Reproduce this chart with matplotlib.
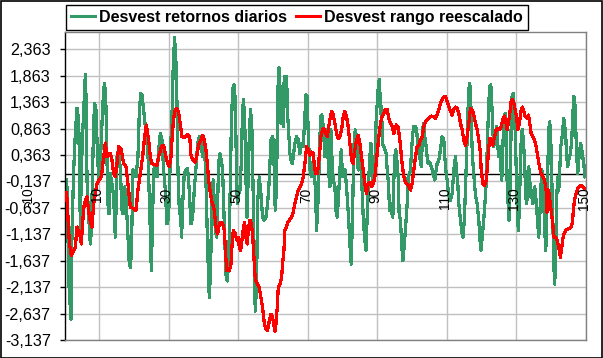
import matplotlib
matplotlib.use("Agg")
import matplotlib.pyplot as plt
from matplotlib.patches import Rectangle

plt.rcParams['font.family'] = ['Liberation Sans', 'DejaVu Sans']

# ---- data ----
# Desvest retornos diarios (green): x positions and values
ret_x = [
    0.43, 0.81, 1.20, 1.87, 2.16, 2.64, 3.12, 3.60, 4.08, 4.36,
    4.56, 4.84, 5.23, 5.61, 5.99, 6.28, 6.47, 6.76, 7.15, 7.43,
    7.72, 8.10, 8.39, 8.68, 9.06, 9.35, 9.83, 10.31, 10.79, 11.27,
    11.56, 11.94, 12.23, 12.52, 12.81, 13.19, 13.67, 14.15, 14.63, 14.92,
    15.11, 15.59, 16.07, 16.55, 16.83, 17.31, 17.70, 18.27, 18.66, 19.04,
    19.42, 19.71, 20.19, 20.58, 21.15, 21.53, 21.92, 22.30, 22.78, 23.26,
    23.74, 24.03, 24.41, 24.70, 24.99, 25.28, 25.66, 26.14, 26.62, 27.10,
    27.58, 28.06, 28.54, 29.02, 29.50, 29.98,
    30.36, 30.65, 30.94, 31.32, 31.70, 32.09, 32.38, 32.66, 33.05, 33.43,
    33.72, 34.01, 34.49, 34.97, 35.44, 35.92, 36.40, 36.88, 37.36, 38.03,
    38.32, 38.80, 39.28, 39.76, 40.24, 40.72, 41.20, 41.68, 42.06, 42.45,
    42.83, 43.12, 43.41, 43.79, 44.08, 44.37, 44.75, 45.13, 45.52, 46.00,
    46.48, 46.86, 47.24, 47.63, 48.01, 48.40, 48.78, 49.07, 49.35, 49.64,
    49.83, 50.12, 50.50, 50.89, 51.27, 51.56, 51.94, 52.23, 52.52, 52.90,
    53.19, 53.57, 53.96, 54.34, 54.63, 54.92, 55.30, 55.59, 56.07, 56.55,
    57.03, 57.51, 57.99, 58.47, 58.95, 59.43, 59.91,
    60.10, 60.39, 60.67, 61.06, 61.35, 61.73, 62.02, 62.31, 62.59, 62.98,
    63.26, 63.55, 63.94, 64.22, 64.51, 64.90, 65.18, 65.57, 65.85, 66.33,
    66.81, 67.29, 67.77, 68.25, 68.73, 69.21, 69.50, 69.88, 70.17, 70.65,
    71.13, 71.61, 71.90, 72.28, 72.57, 72.95, 73.34, 73.72, 74.10, 74.49,
    74.78, 74.97, 75.45, 75.73, 76.02, 76.41, 76.69, 76.98, 77.37, 77.85,
    78.13, 78.52, 78.90, 79.28, 79.67, 80.05, 80.44, 80.82, 81.39, 81.78,
    82.16, 82.55, 82.93, 83.31, 83.70, 84.08, 84.56, 85.04, 85.33, 85.61,
    86.00, 86.38, 86.77, 87.15, 87.44, 87.92, 88.21, 88.49, 88.88, 89.36,
    89.84,
    90.02, 90.40, 90.69, 90.98, 91.27, 91.55, 91.94, 92.23, 92.61, 92.90,
    93.28, 93.57, 93.95, 94.24, 94.53, 94.82, 95.10, 95.39, 95.77, 96.06,
    96.35, 96.73, 97.12, 97.41, 97.69, 97.98, 98.27, 98.65, 98.94, 99.32,
    99.61, 99.99, 100.28, 100.57, 101.05, 101.34, 101.72, 102.11, 102.49, 102.78,
    103.06, 103.45, 103.74, 104.02, 104.41, 104.70, 105.08, 105.37, 105.85, 106.33,
    106.61, 107.00, 107.29, 107.77, 108.24, 108.72, 109.20, 109.49, 109.78, 110.16,
    110.45, 110.74, 111.12, 111.60, 111.89, 112.27, 112.56, 112.85, 113.23, 113.52,
    114.00, 114.48, 114.77, 115.15, 115.53, 115.92, 116.30, 116.59, 116.88, 117.17,
    117.45, 117.84, 118.12, 118.41, 118.80, 119.28, 119.76,
    119.95, 120.24, 120.52, 120.91, 121.29, 121.58, 121.87, 122.16, 122.44, 122.73,
    123.02, 123.31, 123.59, 123.88, 124.17, 124.46, 124.75, 125.03, 125.32, 125.61,
    125.90, 126.18, 126.47, 126.86, 127.14, 127.43, 127.72, 128.01, 128.29, 128.58,
    128.87, 129.16, 129.54, 129.83, 130.12, 130.40, 130.69, 130.98, 131.27, 131.56,
    131.84, 132.23, 132.51, 132.80, 133.09, 133.38, 133.67, 133.95, 134.24, 134.53,
    134.82, 135.11, 135.39, 135.68, 135.97, 136.26, 136.55, 136.83, 137.12, 137.41,
    137.70, 137.98, 138.27, 138.56, 138.85, 139.13, 139.42, 139.71, 140.00, 140.29,
    140.57, 140.86, 141.15, 141.44, 141.72, 142.01, 142.30, 142.59, 142.88, 143.16,
    143.45, 143.74, 144.03, 144.31, 144.60, 144.89, 145.18, 145.47, 145.75, 146.04,
    146.33, 146.62, 146.90, 147.19, 147.48, 147.77, 148.06, 148.34, 148.63, 148.92,
    149.21, 149.50, 149.88,
]
ret_y = [
    -0.10, -0.30, -2.00, -2.74, -1.06, 0.08, 0.77, 1.25, 1.03, 0.01,
    -1.06, 0.08, 0.77, 1.34, 1.88, 1.28, -0.10, -0.56, -1.00, -1.32,
    -1.06, 0.08, 0.96, 1.34, 1.22, 0.65, -0.10, 0.20, 0.96, 1.60,
    1.72, 1.28, 0.27, -0.56, -0.75, 0.01, -0.18, -0.43, -1.19, -0.43,
    0.33, 0.46, 0.08, -0.68, -0.75, -0.24, -0.43, -1.19, -1.70, -1.77,
    -0.94, 0.08, 0.01, -0.05, 0.33, 1.15, 1.53, 1.50, 1.22, 0.90,
    0.77, 0.39, -0.43, -1.06, -1.82, -1.06, 0.08, 0.14, -0.05, 0.46,
    0.77, 0.65, 0.08, -0.30, -0.94, -0.81,
    0.08, 0.65, 1.09, 2.10, 2.58, 2.10, 1.34, 0.08, -0.68, -0.81,
    -1.19, -0.56, 0.01, 0.08, 0.11, -0.30, -0.94, -0.81, -0.30, 0.27,
    0.58, 0.71, 0.58, 0.33, 0.65, -0.11, -1.38, -2.33, -1.83, -0.30,
    -0.11, -0.56, -1.06, -1.19, -0.56, 0.20, 0.39, 0.27, 0.08, -0.94,
    -1.89, -2.02, -1.70, -0.56, 0.84, 1.60, 1.69, 1.47, 0.71, -0.30,
    -0.56, -0.37, -0.30, 0.20, 1.22, 1.41, 0.84, -0.05, -0.81, -0.05,
    0.71, 1.22, 0.84, -0.43, -1.70, -2.59, -2.08, -0.56, -0.05, -0.37,
    -0.81, -0.87, -0.81, -0.56, -0.11, 0.65, 0.71,
    0.65, 0.08, -0.68, -0.24, 1.47, 2.01, 1.66, 0.96, 1.41, 0.90,
    1.85, 1.28, 1.85, 1.15, 0.84, 0.39, 0.27, 0.20, 0.33, 0.58,
    0.71, 0.65, 0.39, 0.58, 0.52, 1.09, 1.50, 1.47, 0.77, 0.08,
    -0.05, 0.27, 0.01, -0.30, -1.06, -0.56, 0.20, 1.09, 1.12, 0.90,
    0.58, 0.33, 0.84, 0.58, 0.08, -0.24, 0.84, 0.33, -0.11, -0.24,
    -0.68, -0.81, -0.43, 0.08, 0.46, -0.05, -0.05, 0.08, -0.43, -0.81,
    -1.32, -1.70, -0.75, 0.52, 0.84, 0.71, 0.08, 0.46, 0.33, -0.18,
    -0.81, -1.19, -1.44, -0.81, -0.30, 0.33, 0.58, 0.08, -0.18, 0.20,
    1.28,
    1.28, 1.72, 1.79, 1.15, 1.28, 0.58, 0.52, 0.46, 0.39, 0.08,
    -0.18, -0.68, -0.56, -0.75, -0.81, -0.11, 0.33, 0.46, 0.20, -0.05,
    -0.75, -0.87, -1.38, -1.64, -1.44, -1.19, -0.94, -0.56, -0.05, 0.01,
    0.08, 0.52, 0.77, 0.90, 0.90, 0.84, 0.58, 0.46, 0.20, 0.14,
    0.84, 0.96, 0.71, 0.58, 0.33, 0.20, 0.23, 0.20, 0.08, -0.05,
    -0.11, 0.08, 0.20, 0.27, 0.46, 0.71, 0.65, 0.33, 0.08, -0.11,
    -0.30, -0.43, -0.49, -0.37, -0.11, 0.20, 0.33, 0.08, -0.18, -0.56,
    -0.87, -1.13, -1.19, -0.81, -0.11, 0.71, 1.47, 1.72, 1.60, 0.84,
    0.33, 0.01, -0.24, -0.43, -0.56, -0.87, -1.38,
    -1.44, -1.19, -1.00, -0.68, -0.30, 0.20, 0.84, 1.34, 1.66, 1.69,
    1.34, 0.84, 0.52, 0.65, 0.77, 0.90, 0.52, 0.33, 0.52, 0.14,
    -0.11, 0.46, 1.03, 1.15, 0.84, -0.11, -0.56, -0.87, -0.18, 0.84,
    1.47, 1.53, 1.22, 0.65, -0.11, -0.81, -1.06, -0.56, 0.20, 0.77,
    0.84, 0.52, 0.14, -0.43, -0.56, -0.05, 0.14, -0.11, -0.43, -0.30,
    -0.56, -0.43, -0.24, -0.43, -0.68, -0.94, -1.19, -0.81, -0.30, 0.08,
    -0.05, -0.56, -1.06, -1.44, -0.81, 0.08, 0.84, 0.99, 0.65, -0.11,
    -0.81, -1.70, -2.08, -1.32, -0.43, -0.05, -0.30, 0.08, 0.52, 0.65,
    0.84, 1.06, 0.90, 0.71, 0.33, 0.14, 0.27, 0.33, 0.46, 0.65,
    1.09, 1.47, 1.41, 0.84, 0.33, 0.01, 0.27, 0.46, 0.58, 0.46,
    0.33, 0.20, -0.05,
]

# Desvest rango reescalado (red): x positions and values
ran_x = [
    0.62, 1.39, 1.97, 2.54, 3.12, 3.60, 4.08, 4.56, 4.84, 5.23,
    5.61, 5.99, 6.47, 6.95, 7.43, 7.91, 8.39, 8.87, 9.35, 9.83,
    10.60, 11.27, 11.75, 12.23, 12.71, 13.19, 13.67, 14.15, 14.63, 15.11,
    15.59, 16.35, 17.03, 17.70, 18.27, 18.94, 19.90, 20.58, 21.15, 21.82,
    22.49, 23.07, 23.55, 24.22, 24.70, 25.18, 26.62, 27.10, 27.87, 28.54,
    29.21, 29.69, 30.17, 30.65, 31.13, 31.61, 32.09, 32.57, 33.05, 33.53,
    33.81, 34.49, 35.16, 35.73, 36.12, 36.40, 36.88, 37.65, 38.03, 38.61,
    39.28, 39.76, 40.24, 40.72, 41.20, 41.49, 41.87, 42.35, 42.64, 43.12,
    43.60, 44.08, 44.37, 44.85, 45.52, 46.00, 46.28, 46.67, 47.44, 47.92,
    48.20, 48.59, 49.16, 49.64, 50.02, 50.31, 50.70, 51.08, 51.56, 51.85,
    52.23, 52.62, 53.00, 53.38, 53.77, 54.15, 54.53, 54.92, 55.59, 56.07,
    56.55, 57.03, 57.51, 57.99, 58.47, 58.95, 59.43, 59.62, 60.10, 60.58,
    60.87, 61.25, 61.54, 62.02, 62.50, 62.79, 63.17, 63.46, 63.74, 64.13,
    64.70, 65.38, 65.85, 66.33, 66.81, 67.29, 67.77, 68.25, 68.73, 69.21,
    69.69, 70.17, 70.65, 71.13, 71.61, 71.90, 72.28, 72.76, 73.05, 73.53,
    73.82, 74.30, 74.68, 75.26, 75.64, 75.93, 76.41, 76.89, 77.37, 77.85,
    78.32, 78.80, 79.28, 79.76, 80.24, 80.72, 81.20, 81.68, 82.16, 82.64,
    83.12, 83.60, 84.08, 84.56, 85.04, 85.52, 86.00, 86.48, 86.96, 87.44,
    87.92, 88.40, 88.88, 89.36, 89.54, 90.02, 90.50, 90.98, 91.46, 91.94,
    92.42, 92.90, 93.38, 93.86, 94.34, 94.82, 95.10, 95.49, 95.97, 96.45,
    96.73, 97.21, 97.69, 98.17, 98.65, 99.13, 99.61, 100.09, 100.57, 101.05,
    101.53, 102.01, 102.49, 102.97, 103.45, 103.93, 104.41, 104.89, 105.37, 105.85,
    106.33, 106.81, 107.29, 107.77, 108.24, 108.72, 109.20, 109.68, 110.16, 110.64,
    111.12, 111.60, 112.08, 112.56, 113.04, 113.52, 114.00, 114.48, 114.96, 115.44,
    115.92, 116.40, 116.88, 117.36, 117.84, 118.32, 118.80, 119.28, 119.76, 119.96,
    120.44, 120.92, 121.40, 121.69, 122.07, 122.45, 122.84, 123.32, 123.80, 124.28,
    124.76, 125.24, 125.71, 126.19, 126.67, 127.15, 127.44, 127.83, 128.11, 128.59,
    128.98, 129.36, 129.74, 130.13, 130.51, 130.99, 131.28, 131.76, 132.14, 132.62,
    133.10, 133.58, 133.96, 134.35, 134.83, 135.31, 135.79, 136.27, 136.75, 137.23,
    137.71, 138.19, 138.66, 138.95, 139.34, 139.62, 140.10, 140.58, 140.87, 141.35,
    141.83, 142.31, 142.79, 143.17, 143.56, 143.94, 144.42, 144.90, 145.38, 145.86,
    146.15, 146.43, 146.82, 147.30, 147.78, 148.26, 148.74, 149.22, 149.70,
]
ran_y = [
    -0.35, -1.30, -1.54, -1.45, -1.38, -1.00, -1.08, -1.19, -1.32, -0.90,
    -0.60, -0.50, -0.43, -0.70, -0.90, -1.00, -0.56, -0.37, -0.18, -0.12,
    -0.05, 0.33, 0.59, 0.33, 0.39, 0.39, 0.27, 0.01, -0.05, 0.20,
    0.52, 0.46, 0.20, 0.14, -0.18, -0.62, -0.65, -0.69, -0.30, 0.01,
    0.33, 0.71, 0.93, 0.65, 0.33, 0.20, 0.17, 0.33, 0.52, 0.55,
    0.33, 0.20, 0.14, 0.33, 0.84, 1.15, 1.24, 1.22, 1.09, 0.84,
    0.71, 0.70, 0.74, 0.74, 0.65, 0.36, 0.27, 0.23, 0.33, 0.55,
    0.65, 0.74, 0.65, 0.46, 0.14, -0.11, -0.30, -0.49, -0.56, -0.68,
    -1.00, -1.13, -1.00, -0.91, -0.93, -1.06, -1.38, -1.82, -1.82, -1.70,
    -1.38, -1.06, -1.13, -1.25, -1.19, -1.38, -1.44, -1.25, -1.00, -0.91,
    -1.19, -1.32, -1.00, -0.87, -0.93, -1.13, -1.57, -1.98, -2.08, -2.14,
    -2.33, -2.52, -2.81, -2.93, -2.95, -2.78, -2.65, -2.65, -2.78, -2.97,
    -2.84, -2.52, -2.14, -2.08, -1.95, -1.70, -1.44, -1.06, -1.03, -0.94,
    -0.87, -0.81, -0.72, -0.56, -0.43, -0.30, -0.24, -0.18, -0.05, 0.20,
    0.52, 0.46, 0.36, 0.42, 0.39, 0.20, 0.01, 0.01, 0.14, 0.46,
    0.71, 0.84, 0.87, 0.77, 0.71, 0.84, 1.03, 1.19, 1.12, 0.96,
    0.77, 0.68, 0.71, 0.84, 1.09, 1.19, 1.09, 0.90, 0.58, 0.27,
    0.20, 0.46, 0.65, 0.74, 0.58, 0.33, 0.08, -0.18, -0.37, -0.18,
    -0.15, -0.24, -0.18, -0.05, 0.08, 0.39, 0.71, 0.96, 1.09, 1.15,
    1.23, 1.22, 1.06, 0.96, 0.90, 0.77, 0.84, 0.93, 0.90, 0.71,
    0.52, 0.20, -0.05, -0.15, -0.18, -0.24, -0.30, -0.18, 0.08, 0.33,
    0.52, 0.55, 0.65, 0.71, 0.90, 1.00, 1.03, 1.06, 1.09, 1.10,
    1.08, 1.06, 1.12, 1.22, 1.34, 1.41, 1.46, 1.47, 1.38, 1.28,
    1.19, 1.12, 1.22, 1.27, 1.25, 1.15, 0.96, 0.84, 0.65, 0.55,
    0.71, 0.96, 1.25, 1.22, 1.12, 0.96, 0.84, 0.65, 0.39, 0.08,
    -0.18, -0.21, -0.11, 0.08, 0.46, 0.68, 0.65, 0.55, 0.71, 0.84,
    0.87, 0.84, 0.90, 1.03, 1.10, 0.96, 0.84, 1.00, 1.09, 1.38,
    1.42, 1.34, 1.22, 1.09, 0.84, 0.96, 1.15, 1.27, 1.22, 1.09,
    1.06, 1.12, 0.96, 0.77, 0.71, 0.65, 0.52, 0.33, 0.14, 0.01,
    -0.05, -0.11, -0.30, -0.72, -0.30, -0.43, -0.68, -0.94, -1.19, -1.19,
    -1.25, -1.38, -1.57, -1.38, -1.19, -1.10, -1.06, -1.04, -1.03, -1.00,
    -0.94, -0.75, -0.49, -0.37, -0.27, -0.24, -0.21, -0.24, -0.27,
]

y_ticks = [-3.137, -2.637, -2.137, -1.637, -1.137, -0.637, -0.137,
           0.363, 0.863, 1.363, 1.863, 2.363]
x_ticks = [10, 30, 50, 70, 90, 110, 130, 150]
x_extra_label = -10

label_g = "Desvest retornos diarios"
label_r = "Desvest rango reescalado"
col_g = "#339966"
col_r = "#FF0000"

# ---- figure ----
W, H = 603, 358
fig = plt.figure(figsize=(W / 100, H / 100), dpi=100)
fig.patch.set_facecolor("white")
ax = fig.add_axes([64.5 / W, 1 - 340 / H, (585.5 - 64.5) / W, (340 - 32) / H])
ax.set_facecolor("white")

ax.set_xlim(0, 150)
ax.set_ylim(-3.137, 2.69)

ax.set_yticks(y_ticks)
ax.set_yticklabels([f"{v:.3f}".replace(".", ",") for v in y_ticks], fontsize=11.6)
ax.set_xticks(x_ticks)
ax.set_xticklabels([])
ax.tick_params(axis="x", length=0)
ax.tick_params(axis="y", direction="out", length=3.6, width=1, color="black", pad=6.3)

ax.grid(True, color="#C0C0C0", linewidth=1)
ax.set_axisbelow(True)

for s in ["top", "right", "bottom"]:
    ax.spines[s].set_color("#808080")
    ax.spines[s].set_linewidth(1)
ax.spines["left"].set_color("black")
ax.spines["left"].set_linewidth(1)

ax.axhline(0, color="black", linewidth=1, zorder=1.5)

ax.plot(ret_x, ret_y, color=col_g, linewidth=1.6, label=label_g, zorder=2,
        antialiased=False)
ax.plot(ran_x, ran_y, color=col_r, linewidth=1.6, label=label_r, zorder=3,
        antialiased=False)

label_y = -0.25
for xt in [x_extra_label] + x_ticks:
    ax.text(xt - 0.5, label_y, str(xt), rotation=90, ha="center", va="top",
            fontsize=9.8, clip_on=False, zorder=4)

leg = ax.legend(loc="upper left", bbox_to_anchor=(66 / W, 1 - 5 / H),
                bbox_transform=fig.transFigure, ncol=2, frameon=True,
                fancybox=False, edgecolor="black", framealpha=1,
                prop={"weight": "bold", "size": 11.5},
                handlelength=1.5, handletextpad=0.25, columnspacing=0.6,
                borderpad=0.3, borderaxespad=0)
leg.get_frame().set_linewidth(1)
for line in leg.get_lines():
    line.set_linewidth(2.2)
leg.set_zorder(10)

fig.patches.append(Rectangle((0.5 / W, 0.5 / H), 1 - 1.5 / W, 1 - 1.5 / H,
                             transform=fig.transFigure, fill=False,
                             edgecolor="black", linewidth=1.2))

fig.savefig("out.png", dpi=100)
